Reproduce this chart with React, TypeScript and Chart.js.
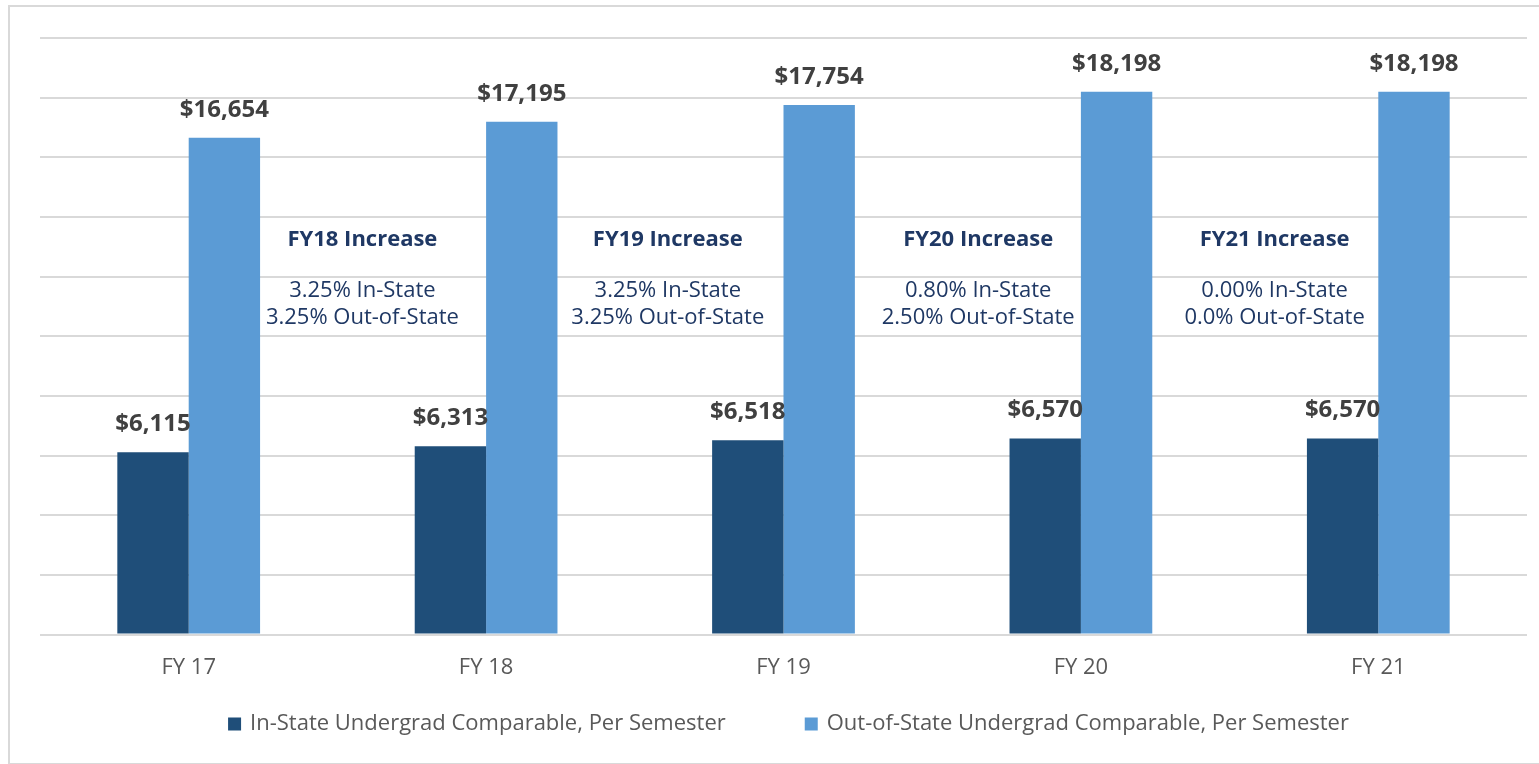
import React, { useEffect, useRef } from "react";
import { Chart, registerables } from "chart.js";

Chart.register(...registerables);

const categories = ["FY 17", "FY 18", "FY 19", "FY 20", "FY 21"];
const inStateValues = [6115, 6313, 6518, 6570, 6570];
const outStateValues = [16654, 17195, 17754, 18198, 18198];
const seriesNames = [
  "In-State Undergrad Comparable, Per Semester",
  "Out-of-State Undergrad Comparable, Per Semester",
];
const seriesColors = ["#1f4e79", "#5b9bd5"];
const noteTitles = ["FY18 Increase", "FY19 Increase", "FY20 Increase", "FY21 Increase"];
const noteInState = ["3.25% In-State", "3.25% In-State", "0.80% In-State", "0.00% In-State"];
const noteOutState = ["3.25% Out-of-State", "3.25% Out-of-State", "2.50% Out-of-State", "0.0% Out-of-State"];
const noteOffsets = [25, 33, 46, 45];

const FONT = "'Open Sans', 'Noto Sans', sans-serif";

const labelPlugin = {
  id: "valueLabels",
  afterDatasetsDraw(chart: any) {
    const ctx = chart.ctx;
    ctx.save();
    ctx.font = `bold 24px ${FONT}`;
    ctx.fillStyle = "#404040";
    ctx.textAlign = "center";
    ctx.textBaseline = "middle";
    chart.data.datasets.forEach((ds: any, di: number) => {
      const meta = chart.getDatasetMeta(di);
      meta.data.forEach((bar: any, i: number) => {
        const v = ds.data[i] as number;
        ctx.fillText("$" + v.toLocaleString("en-US"), bar.x, bar.y - 28);
      });
    });
    // notes
    const xs = chart.scales.x;
    const ys = chart.scales.y;
    noteTitles.forEach((t, i) => {
      const cx = (xs.getPixelForValue(i) + xs.getPixelForValue(i + 1)) / 2 + noteOffsets[i];
      ctx.textAlign = "center";
      ctx.textBaseline = "middle";
      ctx.fillStyle = "#1f3864";
      ctx.font = `bold 22px ${FONT}`;
      ctx.fillText(t, cx, ys.getPixelForValue(13230));
      ctx.font = `22px ${FONT}`;
      ctx.fillText(noteInState[i], cx, ys.getPixelForValue(11524));
      ctx.fillText(noteOutState[i], cx, ys.getPixelForValue(10620));
    });
    // legend
    const area = chart.chartArea;
    ctx.font = `22px ${FONT}`;
    ctx.textAlign = "left";
    const box = 13;
    const boxGap = 9;
    const itemGap = 79;
    const widths = seriesNames.map((s) => ctx.measureText(s).width);
    const total = widths.reduce((a, w) => a + box + boxGap + w, 0) + itemGap * (seriesNames.length - 1);
    let x = (area.left + area.right) / 2 + 5 - total / 2;
    const ly = 724;
    seriesNames.forEach((s, i) => {
      ctx.fillStyle = seriesColors[i];
      ctx.fillRect(x, ly - box / 2, box, box);
      x += box + boxGap;
      ctx.fillStyle = "#595959";
      ctx.fillText(s, x, ly);
      x += widths[i] + itemGap;
    });
    ctx.restore();
  },
};

export default function App() {
  const ref = useRef<HTMLCanvasElement | null>(null);
  useEffect(() => {
    if (!ref.current) return;
    const chart = new Chart(ref.current, {
      type: "bar",
      data: {
        labels: categories,
        datasets: seriesNames.map((name, i) => ({
          label: name,
          data: i === 0 ? inStateValues : outStateValues,
          backgroundColor: seriesColors[i],
          categoryPercentage: 0.48,
          barPercentage: 1.0,
        })),
      },
      options: {
        animation: false,
        responsive: false,
        maintainAspectRatio: false,
        layout: { padding: { left: 40, right: 12, top: 38, bottom: 63 } },
        scales: {
          x: {
            grid: { display: false, drawTicks: false },
            border: { display: false },
            ticks: { color: "#595959", font: { family: FONT, size: 22 }, padding: 20 },
          },
          y: {
            min: 0,
            max: 20000,
            ticks: { display: false, stepSize: 2000 },
            border: { display: false },
            grid: { color: "#d9d9d9", lineWidth: 2, drawTicks: false },
          },
        },
        plugins: {
          tooltip: { enabled: false },
          legend: { display: false },
        },
      },
      plugins: [labelPlugin],
    });
    return () => chart.destroy();
  }, []);
  return (
    <div style={{ position: "fixed", left: 0, top: 0, width: 1539, height: 764, background: "#fff" }}>
      <canvas ref={ref} width={1539} height={764} style={{ display: "block" }} />
      <div
        style={{
          position: "absolute",
          left: 8,
          top: 5,
          width: 1540,
          height: 756,
          border: "2px solid #d9d9d9",
          pointerEvents: "none",
        }}
      />
    </div>
  );
}
